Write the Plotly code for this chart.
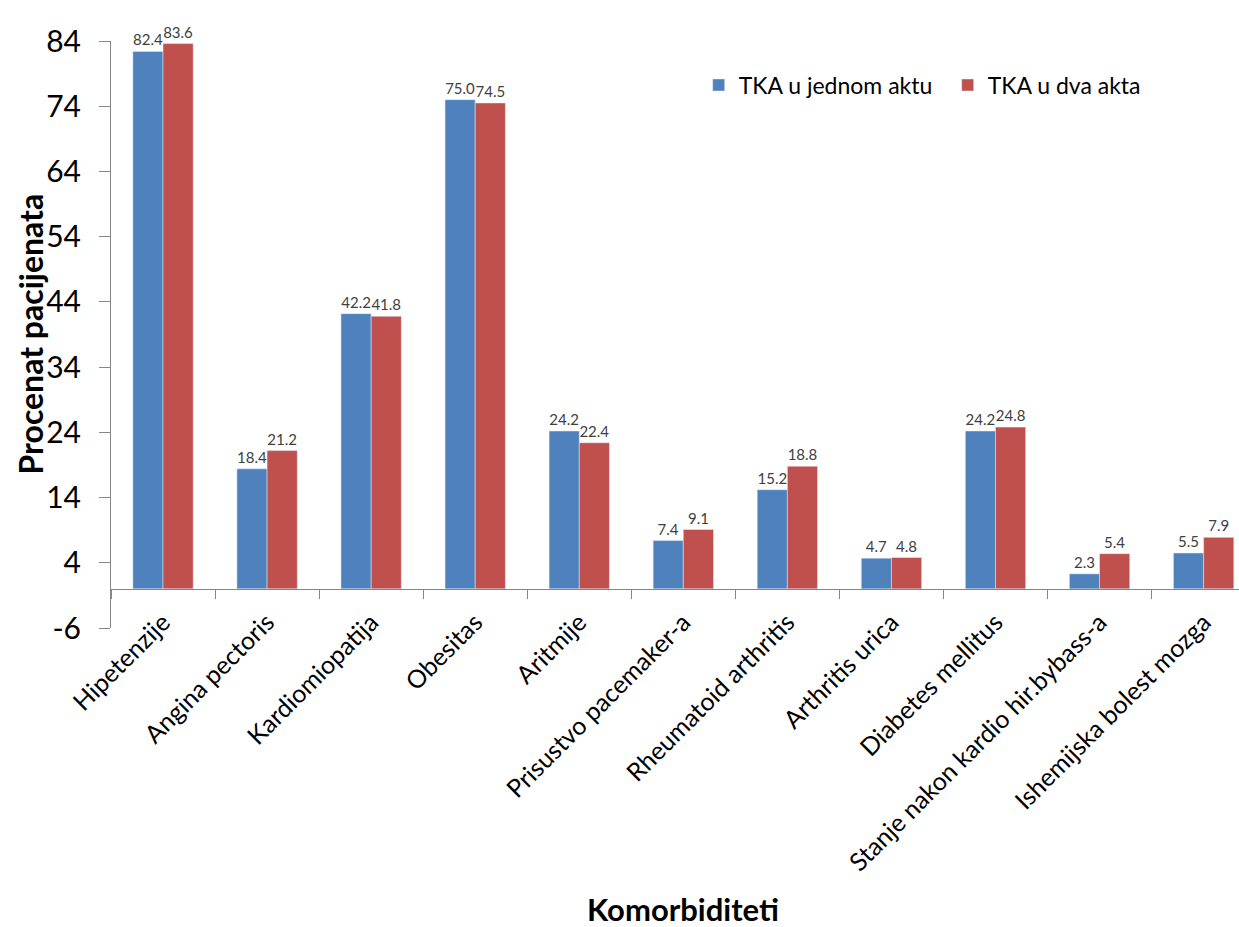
import plotly.graph_objects as go

categories = ["Hipetenzije", "Angina pectoris", "Kardiomiopatija", "Obesitas", "Aritmije",
              "Prisustvo pacemaker-a", "Rheumatoid arthritis", "Arthritis urica",
              "Diabetes mellitus", "Stanje nakon kardio hir.bybass-a", "Ishemijska bolest mozga"]
series_one = [82.4, 18.4, 42.2, 75.0, 24.2, 7.4, 15.2, 4.7, 24.2, 2.3, 5.5]
series_two = [83.6, 21.2, 41.8, 74.5, 22.4, 9.1, 18.8, 4.8, 24.8, 5.4, 7.9]
name_one = "TKA u jednom aktu"
name_two = "TKA u dva akta"
y_ticks = [-6, 4, 14, 24, 34, 44, 54, 64, 74, 84]
y_tick_text = ["-6", "4", "14", "24", "34", "44", "54", "64", "74", "84"]

FONT = "Lato"
AXIS_COLOR = "#868686"

fig = go.Figure()
fig.add_trace(go.Bar(x=categories, y=series_one, name=name_one, marker_color="#4F81BD",
                     text=series_one, texttemplate="%{y:.1f}", textposition="outside",
                     textfont=dict(size=15, color="#404040", family=FONT),
                     constraintext="none", cliponaxis=False))
fig.add_trace(go.Bar(x=categories, y=series_two, name=name_two, marker_color="#C0504D",
                     text=series_two, texttemplate="%{y:.1f}", textposition="outside",
                     textfont=dict(size=15, color="#404040", family=FONT),
                     constraintext="none", cliponaxis=False))

ymin, ymax = y_ticks[0], y_ticks[-1]
zero_pos = (0 - ymin) / (ymax - ymin)

fig.update_layout(
    width=1239, height=927,
    margin=dict(l=111, r=0, t=41, b=299),
    plot_bgcolor="white", paper_bgcolor="white",
    barmode="group", bargap=0.42, bargroupgap=0,
    font=dict(family=FONT, color="black"),
    xaxis=dict(type="category", range=[-0.5, 10.34], anchor="free", position=zero_pos,
               showline=True, linecolor=AXIS_COLOR, linewidth=1,
               ticks="outside", tickson="boundaries", ticklen=9, tickcolor=AXIS_COLOR,
               tickangle=-45, tickfont=dict(size=25, family=FONT, color="black"),
               ticklabelstandoff=8,
               showgrid=False, zeroline=False),
    yaxis=dict(range=[ymin, ymax], tickvals=y_ticks, ticktext=y_tick_text,
               showline=True, linecolor=AXIS_COLOR,
               linewidth=1, ticks="outside", ticklen=11, tickcolor=AXIS_COLOR,
               tickfont=dict(size=30, family=FONT, color="black"),
               ticklabelstandoff=12,
               showgrid=False, zeroline=False),
    legend=dict(orientation="h", x=0.521, y=0.925, xanchor="left", yanchor="middle",
                entrywidth=204, entrywidthmode="pixels",
                font=dict(size=23, family=FONT, color="black"), bgcolor="rgba(0,0,0,0)"),
    annotations=[
        dict(text="<b>Procenat pacijenata</b>", textangle=-90, xref="paper", yref="paper",
             x=-0.0718, y=0.5, xanchor="center", yanchor="middle", showarrow=False,
             font=dict(size=32, family=FONT, color="black")),
        dict(text="<b>Komorbiditeti</b>", xref="paper", yref="paper",
             x=0.507, y=-0.479, xanchor="center", yanchor="middle", showarrow=False,
             font=dict(size=31, family=FONT, color="black")),
    ],
)

fig.write_html("out.html")
